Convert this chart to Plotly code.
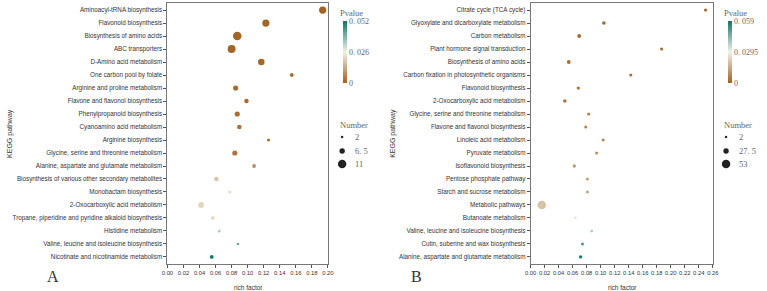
import plotly.graph_objects as go

# ---------------- data ----------------
path_A = ["Aminoacyl-tRNA biosynthesis", "Flavonoid biosynthesis", "Biosynthesis of amino acids",
          "ABC transporters", "D-Amino acid metabolism", "One carbon pool by folate",
          "Arginine and proline metabolism", "Flavone and flavonol biosynthesis",
          "Phenylpropanoid biosynthesis", "Cyanoamino acid metabolism", "Arginine biosynthesis",
          "Glycine, serine and threonine metabolism", "Alanine, aspartate and glutamate metabolism",
          "Biosynthesis of various other secondary metabolites", "Monobactam biosynthesis",
          "2-Oxocarboxylic acid metabolism", "Tropane, piperidine and pyridine alkaloid biosynthesis",
          "Histidine metabolism", "Valine, leucine and isoleucine biosynthesis",
          "Nicotinate and nicotinamide metabolism"]
rich_A = [0.1935, 0.1227, 0.087, 0.080, 0.117, 0.155, 0.085, 0.0985, 0.087, 0.0896, 0.126,
          0.084, 0.108, 0.061, 0.0777, 0.042, 0.0564, 0.0646, 0.088, 0.0552]
num_A = [9, 9, 11, 10, 8, 4, 6, 5, 6, 5, 3, 6, 4, 5, 3, 7, 4, 3, 2, 4]
p_A = [0.0005, 0.001, 0.001, 0.001, 0.0015, 0.002, 0.002, 0.002, 0.0025, 0.003, 0.003,
       0.004, 0.008, 0.018, 0.022, 0.021, 0.022, 0.033, 0.042, 0.052]

path_B = ["Citrate cycle (TCA cycle)", "Glyoxylate and dicarboxylate metabolism", "Carbon metabolism",
          "Plant hormone signal transduction", "Biosynthesis of amino acids",
          "Carbon fixation in photosynthetic organisms", "Flavonoid biosynthesis",
          "2-Oxocarboxylic acid metabolism", "Glycine, serine and threonine metabolism",
          "Flavone and flavonol biosynthesis", "Linoleic acid metabolism", "Pyruvate metabolism",
          "Isoflavonoid biosynthesis", "Pentose phosphate pathway", "Starch and sucrose metabolism",
          "Metabolic pathways", "Butanoate metabolism", "Valine, leucine and isoleucine biosynthesis",
          "Cutin, suberine and wax biosynthesis", "Alanine, aspartate and glutamate metabolism"]
rich_B = [0.2497, 0.1045, 0.0693, 0.187, 0.0544, 0.143, 0.068, 0.0488, 0.0829, 0.0787, 0.1035,
          0.0942, 0.0623, 0.081, 0.081, 0.0159, 0.0637, 0.0871, 0.074, 0.0713]
num_B = [8, 12, 14, 8, 14, 8, 9, 12, 8, 8, 8, 8, 9, 8, 8, 53, 5, 6, 8, 9]
p_B = [0.001, 0.002, 0.002, 0.002, 0.003, 0.003, 0.004, 0.005, 0.006, 0.007, 0.008, 0.010,
       0.011, 0.013, 0.014, 0.020, 0.027, 0.038, 0.050, 0.059]

cbar_ticks_A = [0, 0.026, 0.052]
cbar_text_A = ["0", "0. 026", "0. 052"]
cbar_ticks_B = [0, 0.0295, 0.059]
cbar_text_B = ["0", "0. 0295", "0. 059"]
size_leg_A = [2, 6.5, 11]
size_leg_B = [2, 27.5, 53]
size_leg_text_A = ["2", "6. 5", "11"]
size_leg_text_B = ["2", "27. 5", "53"]

# ---------------- styling ----------------
W, H = 767, 291
SANS = "Liberation Sans, Arial, sans-serif"
SERIF = "Liberation Serif, DejaVu Serif, serif"
CSCALE = [[0, "#a0601f"], [0.5, "#f4f0e6"], [1, "#0b7769"]]
DMIN, DMAX = 2.4, 8.6


def px_x(p):
    return p / W


def px_y(p):
    return (H - p) / H


def sizes(nums, nmin, nmax):
    return [DMIN + (DMAX - DMIN) * (n - nmin) / (nmax - nmin) for n in nums]


fig = go.Figure()

fig.add_trace(go.Scatter(x=rich_A, y=path_A, mode="markers", xaxis="x", yaxis="y",
                         marker=dict(size=sizes(num_A, 2, 11), color=p_A, coloraxis="coloraxis",
                                     line=dict(width=0), opacity=1),
                         showlegend=False))
fig.add_trace(go.Scatter(x=rich_B, y=path_B, mode="markers", xaxis="x2", yaxis="y2",
                         marker=dict(size=sizes(num_B, 2, 53), color=p_B, coloraxis="coloraxis2",
                                     line=dict(width=0), opacity=1),
                         showlegend=False))

ydom = [px_y(264), px_y(3)]
axis_common = dict(showgrid=False, zeroline=False, showline=True, mirror=True,
                   linecolor="#777", linewidth=1, ticks="outside", ticklen=3,
                   tickcolor="#555", tickwidth=1)
ytick_font = dict(family=SANS, size=6.3, color="#333")
xtick_font = dict(family=SANS, size=5.8, color="#333")

fig.update_layout(
    width=W, height=H, autosize=False,
    margin=dict(l=0, r=0, t=0, b=0),
    plot_bgcolor="white", paper_bgcolor="white",
    xaxis=dict(domain=[px_x(164), px_x(327)], range=[0, 0.2], tickvals=[i * 0.02 for i in range(11)],
               tickformat=".2f", tickangle=0, tickfont=xtick_font, anchor="y", **axis_common),
    yaxis=dict(domain=ydom, type="category", categoryorder="array", categoryarray=path_A,
               range=[len(path_A) - 0.46, -0.54], tickfont=ytick_font, anchor="x", **axis_common),
    xaxis2=dict(domain=[px_x(533), px_x(718)], range=[0, 0.26], tickvals=[i * 0.02 for i in range(14)],
                tickformat=".2f", tickangle=0, tickfont=xtick_font, anchor="y2", **axis_common),
    yaxis2=dict(domain=ydom, type="category", categoryorder="array", categoryarray=path_B,
                range=[len(path_B) - 0.46, -0.54], tickfont=ytick_font, anchor="x2", **axis_common),
    coloraxis=dict(colorscale=CSCALE, cmin=0, cmax=0.052,
                   colorbar=dict(x=px_x(342), xanchor="left", xpad=0, thickness=4, thicknessmode="pixels",
                                 len=62, lenmode="pixels", y=px_y(21), yanchor="top", ypad=0,
                                 outlinewidth=0, ticks="", tickvals=cbar_ticks_A, ticktext=cbar_text_A,
                                 tickfont=dict(family=SERIF, size=8, color="#666"))),
    coloraxis2=dict(colorscale=CSCALE, cmin=0, cmax=0.059,
                    colorbar=dict(x=px_x(733), xanchor="left", xpad=0, thickness=4, thicknessmode="pixels",
                                  len=62, lenmode="pixels", y=px_y(21), yanchor="top", ypad=0,
                                  outlinewidth=0, ticks="", tickvals=cbar_ticks_B, ticktext=cbar_text_B,
                                  tickfont=dict(family=SERIF, size=8, color="#666"))),
)

annotations = []
shapes = []


def ann(x, y, text, size, family=SANS, color="#333", xanchor="center", angle=0):
    annotations.append(dict(x=px_x(x), y=px_y(y), xref="paper", yref="paper", text=text,
                            showarrow=False, xanchor=xanchor, yanchor="middle", textangle=angle,
                            font=dict(family=family, size=size, color=color)))


# axis titles and panel letters
ann(246, 287, "rich factor", 6.5)
ann(626, 287, "rich factor", 6.5)
ann(4, 133, "KEGG pathway", 7, angle=-90)
ann(393, 133, "KEGG pathway", 7, angle=-90)
ann(48, 276, "A", 16, family=SERIF)
ann(417, 276, "B", 16, family=SERIF)

# colour legend titles and size legends
for (lx, vals, texts, nmin, nmax) in [(337, size_leg_A, size_leg_text_A, 2, 11),
                                      (727, size_leg_B, size_leg_text_B, 2, 53)]:
    ann(lx, 13, "Pvalue", 8.5, family=SERIF, color="#666", xanchor="left")
    ann(lx, 125, "Number", 8.5, family=SERIF, color="#666", xanchor="left")
    ys = [137, 151, 164]
    for v, t, yy, d in zip(vals, texts, ys, sizes(vals, nmin, nmax)):
        cx = lx + 4.5
        shapes.append(dict(type="circle", xref="paper", yref="paper",
                           x0=px_x(cx - d / 2), x1=px_x(cx + d / 2),
                           y0=px_y(yy + d / 2), y1=px_y(yy - d / 2),
                           fillcolor="#222", line=dict(width=0)))
        ann(lx + 16, yy, t, 8.5, family=SERIF, color="#666", xanchor="left")

fig.update_layout(annotations=annotations, shapes=shapes)

fig.write_html("out.html")
